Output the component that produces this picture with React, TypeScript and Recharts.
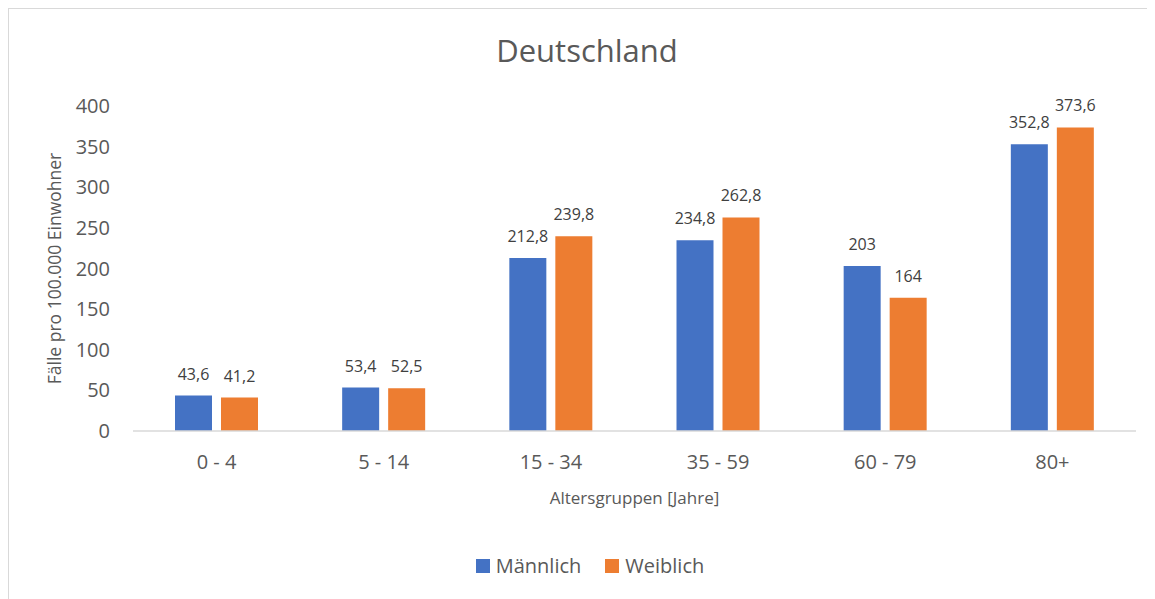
import React from 'react';
import { BarChart, Bar, XAxis, YAxis, Legend, LabelList, Label } from 'recharts';

const categories = ['0 - 4', '5 - 14', '15 - 34', '35 - 59', '60 - 79', '80+'];
const maleValues = [43.6, 53.4, 212.8, 234.8, 203, 352.8];
const femaleValues = [41.2, 52.5, 239.8, 262.8, 164, 373.6];
const yTicks = [0, 50, 100, 150, 200, 250, 300, 350, 400];

const BLUE = '#4472C4';
const ORANGE = '#ED7D31';
const TEXT = '#595959';
const FONT = '"Open Sans", sans-serif';

const data = categories.map((name, i) => ({
    name,
    male: maleValues[i],
    female: femaleValues[i],
}));

const fmt = (v: any) => String(v).replace('.', ',');

const renderLegend = () => (
    <div style={{ display: 'flex', justifyContent: 'center', fontFamily: FONT, fontSize: 20, color: TEXT, lineHeight: '24px' }}>
        {[{ n: 'Männlich', c: BLUE }, { n: 'Weiblich', c: ORANGE }].map((it, i) => (
            <div key={it.n} style={{ display: 'flex', alignItems: 'center', marginLeft: i ? 24 : 0 }}>
                <span style={{ display: 'inline-block', width: 14, height: 14, background: it.c, marginRight: 6 }} />
                <span>{it.n}</span>
            </div>
        ))}
    </div>
);

const App: React.FC = () => {
    return (
        <div
            style={{
                position: 'relative',
                width: 1147,
                height: 591,
                borderLeft: '1px solid #d9d9d9',
                borderTop: '1px solid #d9d9d9',
                boxSizing: 'border-box',
                background: '#fff',
            }}
        >
            <div
                style={{
                    position: 'absolute',
                    top: 26,
                    left: 5,
                    width: 1146,
                    textAlign: 'center',
                    fontFamily: FONT,
                    fontSize: 31,
                    lineHeight: '31px',
                    color: TEXT,
                }}
            >
                Deutschland
            </div>
            <BarChart
                width={1146}
                height={590}
                data={data}
                margin={{ top: 97, right: 19, bottom: 88, left: 0 }}
                barGap={9}
                style={{ fontFamily: FONT }}
            >
                <XAxis
                    dataKey="name"
                    height={80}
                    tickLine={false}
                    tickSize={0}
                    tickMargin={24}
                    axisLine={{ stroke: '#d9d9d9', strokeWidth: 1.5 }}
                    tick={{ fontSize: 20, fill: TEXT }}
                >
                    <Label
                        content={({ viewBox }: any) => (
                            <text
                                x={viewBox.x + viewBox.width / 2}
                                y={495}
                                textAnchor="middle"
                                fontSize={17}
                                fill={TEXT}
                                fontFamily={FONT}
                            >
                                Altersgruppen [Jahre]
                            </text>
                        )}
                    />
                </XAxis>
                <YAxis
                    width={124}
                    domain={[0, 400]}
                    ticks={yTicks}
                    tickLine={false}
                    tickSize={0}
                    tickMargin={23}
                    axisLine={false}
                    tick={{ fontSize: 20, fill: TEXT }}
                >
                    <Label
                        content={({ viewBox }: any) => {
                            const cy = viewBox.y + viewBox.height / 2;
                            return (
                                <text
                                    x={52}
                                    y={cy}
                                    transform={`rotate(-90, 52, ${cy})`}
                                    textAnchor="middle"
                                    fontSize={17.5}
                                    fill={TEXT}
                                    fontFamily={FONT}
                                >
                                    Fälle pro 100.000 Einwohner
                                </text>
                            );
                        }}
                    />
                </YAxis>
                <Legend
                    verticalAlign="middle"
                    align="center"
                    layout="horizontal"
                    wrapperStyle={{ top: 545, left: 0, width: 1162 }}
                    content={renderLegend}
                />
                <Bar dataKey="male" name="Männlich" fill={BLUE} barSize={37} isAnimationActive={false}>
                    <LabelList dataKey="male" position="top" offset={16} fontSize={16} fill="#404040" formatter={fmt} />
                </Bar>
                <Bar dataKey="female" name="Weiblich" fill={ORANGE} barSize={37} isAnimationActive={false}>
                    <LabelList dataKey="female" position="top" offset={16} fontSize={16} fill="#404040" formatter={fmt} />
                </Bar>
            </BarChart>
        </div>
    );
};

export default App;
